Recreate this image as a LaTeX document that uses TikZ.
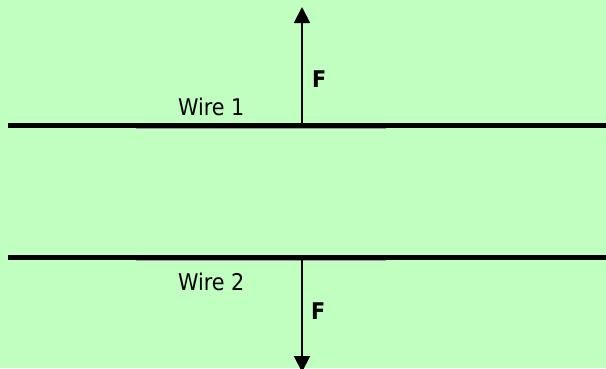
\documentclass[tikz,border=0pt]{standalone}
\usepackage{fontspec}
\setmainfont{DejaVu Sans Condensed}
\usepackage{xcolor}
\usetikzlibrary{arrows.meta}
\definecolor{paleGreen}{RGB}{192, 255, 192}
\tikzset{wire/.style={line width=5pt, black}, force/.style={line width=2pt, black, -{Triangle[length=16pt, width=16pt]}}}

\begin{document}
\begin{tikzpicture}[x=1pt, y=1pt, every node/.style={inner sep=0pt, font=\fontsize{23}{27}\selectfont}]
	\fill[paleGreen] (0, 0) rectangle (606, 368);
	\useasboundingbox (0, 0) rectangle (606, 368);
	\coordinate (w1L) at (8, 243);
	\coordinate (w1R) at (606, 243);
	\coordinate (w2L) at (8, 111);
	\coordinate (w2R) at (606, 111);
	\coordinate (F1) at (302, 243);
	\coordinate (F1tip) at (302, 361);
	\coordinate (F2) at (302, 111);
	\coordinate (F2tip) at (302, -4);
	% wires
	\draw[gray!80, line width=1pt] (136, 240) -- (386, 240);
	\draw[gray!80, line width=1pt] (136, 108) -- (386, 108);
	\draw[wire] (w1L) -- (w1R);
	\draw[wire] (w2L) -- (w2R);
	% forces
	\draw[force] (F1) -- (F1tip);
	\draw[force] (F2) -- (F2tip);
	\node[anchor=base west] (wire1) at (178, 253) {Wire 1};
	\node[anchor=base west] (wire2) at (178, 78) {Wire 2};
	\node[anchor=base west] (f1) at (312, 281) {\bfseries F};
	\node[anchor=base west] (f2) at (311, 49) {\bfseries F};
\end{tikzpicture}
\end{document}
